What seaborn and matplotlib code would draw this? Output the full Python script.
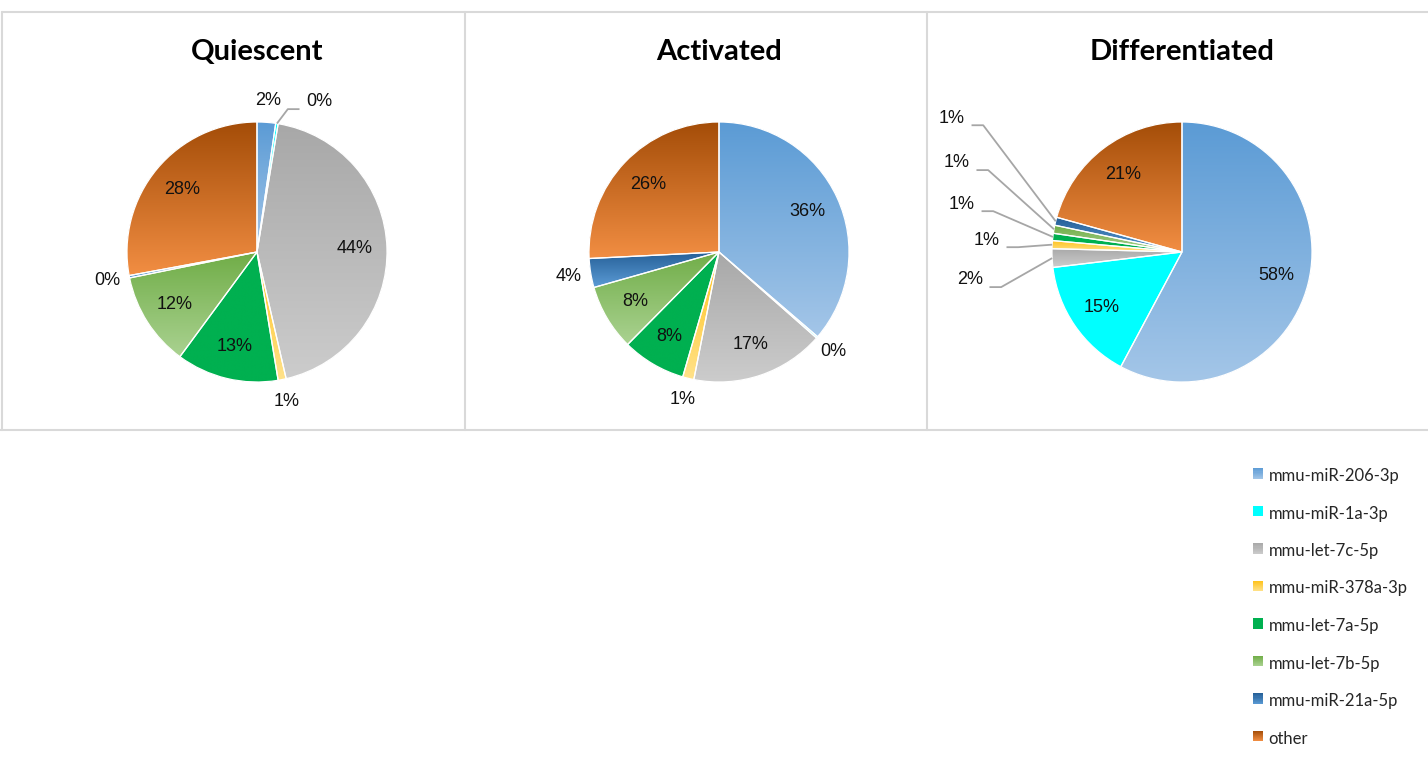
import numpy as np
import matplotlib
matplotlib.use("Agg")
import matplotlib.pyplot as plt
import seaborn as sns
from matplotlib.colors import to_rgb, LinearSegmentedColormap
from matplotlib.patches import Rectangle, Wedge
from matplotlib.legend_handler import HandlerBase
from matplotlib.lines import Line2D

# ---- data -----------------------------------------------------------------
mirnas = ["mmu-miR-206-3p", "mmu-miR-1a-3p", "mmu-let-7c-5p", "mmu-miR-378a-3p",
          "mmu-let-7a-5p", "mmu-let-7b-5p", "mmu-miR-21a-5p", "other"]
conditions = ["Quiescent", "Activated", "Differentiated"]
quiescent = [2.3, 0.3, 43.8, 1.0, 12.7, 11.7, 0.3, 27.9]
activated = [36.3, 0.2, 16.6, 1.4, 7.9, 8.2, 3.6, 25.8]
differentiated = [57.8, 15.3, 2.3, 1.0, 0.9, 1.0, 1.0, 20.7]
shares = {"Quiescent": quiescent, "Activated": activated,
          "Differentiated": differentiated}

# vertical gradient per slice: (top colour, bottom colour)
fills = {
    "mmu-miR-206-3p": ("#5B9BD5", "#A4C6E8"),
    "mmu-miR-1a-3p": ("#00FFFF", "#00FFFF"),
    "mmu-let-7c-5p": ("#A8A8A8", "#CCCCCC"),
    "mmu-miR-378a-3p": ("#FFC21A", "#FFE28A"),
    "mmu-let-7a-5p": ("#00B050", "#00B050"),
    "mmu-let-7b-5p": ("#70AD47", "#AAD291"),
    "mmu-miR-21a-5p": ("#245E96", "#5B9BD5"),
    "other": ("#A44D08", "#F28E43"),
}

# ---- layout (pixels on a 1428 x 775 canvas) --------------------------------
W, H, DPI = 1428, 775, 100
R = 130.0
panels = {  # panel box (x0, y0, x1, y1) and pie centre (cx, cy)
    "Quiescent": ((2, 12, 465, 430), (257, 252)),
    "Activated": ((465, 12, 927, 430), (719, 252)),
    "Differentiated": ((927, 12, 1428, 430), (1182, 252)),
}
# labels drawn with a leader line: text anchor (radius units) and alignment
callouts = {
    "Quiescent": {"mmu-miR-1a-3p": (0.377, 1.154, "left")},
    "Differentiated": {
        "mmu-let-7c-5p": (-1.531, -0.215, "right"),
        "mmu-miR-378a-3p": (-1.400, 0.092, "right"),
        "mmu-let-7a-5p": (-1.592, 0.369, "right"),
        "mmu-let-7b-5p": (-1.631, 0.685, "right"),
        "mmu-miR-21a-5p": (-1.669, 1.030, "right"),
    },
}

sns.set_theme(style="white")
plt.rcParams["font.family"] = ["Liberation Sans", "DejaVu Sans"]

fig = plt.figure(figsize=(W / DPI, H / DPI), dpi=DPI)
fig.patch.set_facecolor("white")

label_kw = dict(fontsize=13, color="#111111", family=["Liberation Sans", "DejaVu Sans"])
leader_color = "#A6A6A6"


def wedge_bbox(theta1, theta2):
    t = np.radians(np.linspace(theta1, theta2, 200))
    xs = np.concatenate([np.cos(t), [0.0]])
    ys = np.concatenate([np.sin(t), [0.0]])
    return xs.min(), xs.max(), ys.min(), ys.max()


for cond in conditions:
    (x0, y0, x1, y1), (cx, cy) = panels[cond]
    ax = fig.add_axes([x0 / W, 1 - y1 / H, (x1 - x0) / W, (y1 - y0) / H])
    vals = shares[cond]
    wedges, _ = ax.pie(vals, colors=[fills[m][0] for m in mirnas], startangle=90,
                       counterclock=False, radius=1.0, center=(0, 0),
                       wedgeprops=dict(linewidth=0))
    total = float(np.sum(vals))
    for w, name, v in zip(wedges, mirnas, vals):
        top, bottom = fills[name]
        xa, xb, ya, yb = wedge_bbox(w.theta1, w.theta2)
        cmap = LinearSegmentedColormap.from_list(name, [top, bottom])
        img = ax.imshow(np.linspace(0, 1, 256)[:, None], cmap=cmap, aspect="auto",
                        extent=(xa, xb, ya, yb), origin="upper", zorder=2,
                        interpolation="bilinear")
        img.set_clip_path(w)
        ax.add_patch(Wedge((0, 0), 1.0, w.theta1, w.theta2, fill=False,
                           edgecolor="white", linewidth=0.9, zorder=3))

        pct = f"{round(100 * v / total):.0f}%"
        mid = np.radians((w.theta1 + w.theta2) / 2)
        ex, ey = np.cos(mid), np.sin(mid)
        if name in callouts.get(cond, {}):
            tx, ty, ha = callouts[cond][name]
            sgn = -1 if ha == "left" else 1
            ly = ty - 0.055
            hend = tx + sgn * 0.05
            elbow = tx + sgn * 0.14
            ax.plot([ex, elbow, hend], [ey, ly, ly], color=leader_color, lw=1.3,
                    zorder=4, solid_capstyle="butt")
            ax.text(tx, ty, pct, ha=ha, va="center", zorder=5, **label_kw)
        else:
            rr = 1.17 if v < 5 else 0.75
            ax.text(rr * ex, rr * ey, pct, ha="center", va="center", zorder=5, **label_kw)

    ax.text(0, (cy - 52) / R, cond, ha="center", va="center", fontsize=21,
            fontweight="bold", family=["Lato", "DejaVu Sans"], color="black")
    ax.set_xlim((x0 - cx) / R, (x1 - cx) / R)
    ax.set_ylim((cy - y1) / R, (cy - y0) / R)
    ax.set_aspect("auto")
    ax.axis("off")

# panel frames
frame_kw = dict(color="#D9D9D9", lw=1.5, transform=fig.transFigure)
fx = lambda x: x / W
fy = lambda y: 1 - y / H
fig.add_artist(Line2D([fx(2), fx(1428)], [fy(12), fy(12)], **frame_kw))
fig.add_artist(Line2D([fx(0), fx(1428)], [fy(430), fy(430)], **frame_kw))
for xv in (2, 465, 927):
    fig.add_artist(Line2D([fx(xv), fx(xv)], [fy(12), fy(430)], **frame_kw))


class GradientSwatch(HandlerBase):
    def __init__(self, top, bottom, steps=10):
        super().__init__()
        self.top, self.bottom, self.steps = np.array(to_rgb(top)), np.array(to_rgb(bottom)), steps

    def create_artists(self, legend, orig_handle, xdescent, ydescent, width, height,
                       fontsize, trans):
        arts = []
        side = width
        y_top = -ydescent + height * 1.1
        for k in range(self.steps):
            f = (k + 0.5) / self.steps
            c = (1 - f) * self.top + f * self.bottom
            arts.append(Rectangle((-xdescent, y_top - side * (k + 1) / self.steps),
                                  side, side / self.steps + 0.2, facecolor=c,
                                  edgecolor="none", transform=trans))
        return arts


handles = [Rectangle((0, 0), 1, 1) for _ in mirnas]
hmap = {h: GradientSwatch(*fills[m]) for h, m in zip(handles, mirnas)}
fig.legend(handles, mirnas, handler_map=hmap, loc="upper left",
           bbox_to_anchor=(fx(1253), fy(468)), frameon=False, borderpad=0,
           borderaxespad=0, labelspacing=1.29, handlelength=0.62, handleheight=0.62,
           handletextpad=0.32, prop=dict(family=["Lato", "DejaVu Sans"], size=12))

fig.savefig("out.png", dpi=DPI, facecolor="white")
